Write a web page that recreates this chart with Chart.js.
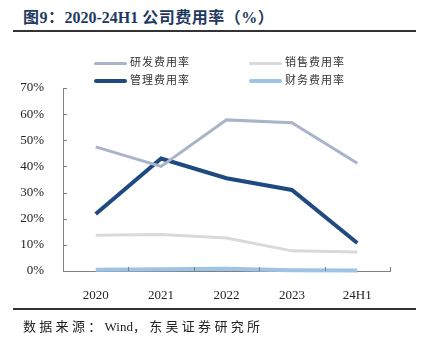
<!DOCTYPE html>
<html>
<head>
<meta charset="utf-8">
<script src="https://cdn.jsdelivr.net/npm/chart.js@4/dist/chart.umd.min.js"></script>
<style>
  body { margin: 0; background: #fff; width: 430px; height: 347px; overflow: hidden; position: relative; }
  .title { position: absolute; left: 23px; top: 4px; font: bold 16px "Liberation Serif", "Noto Sans CJK SC", serif; color: #1f3a5f; white-space: nowrap; }
  .title .cn { letter-spacing: 0.5px; }
  .rule { position: absolute; left: 13px; width: 403px; height: 2px; background: #333; }
  .source { position: absolute; left: 23px; top: 316px; font: 13px "Liberation Serif", "Noto Sans CJK SC", serif; color: #222; white-space: nowrap; }
  .source .cn { letter-spacing: 3.3px; }
  #wrap { position: absolute; left: 0; top: 0; width: 430px; height: 347px; }
  .legend { position: absolute; font: 11px "Noto Sans CJK SC", sans-serif; color: #333; letter-spacing: 1px; }
  .legend span { display: inline-block; width: 33px; height: 3px; vertical-align: middle; margin-right: 3px; border-radius: 2px; }
</style>
</head>
<body>
<div class="title"><span class="cn">图9：</span>2020-24H1 <span class="cn">公司费用率（%）</span></div>
<div class="rule" style="top:30px"></div>
<div id="wrap"><canvas id="c" width="430" height="347"></canvas></div>
<div id="legend"></div>
<div class="rule" style="top:308px"></div>
<div class="source"><span class="cn">数据来源：</span>Wind<span class="cn">，东吴证券研究所</span></div>
<script>
// ---- 数据 ----
const years = ['2020', '2021', '2022', '2023', '24H1'];
const rdRate = [47.5, 40.0, 57.8, 56.7, 41.2];      // 研发费用率
const salesRate = [13.7, 14.0, 12.6, 7.7, 7.3];    // 销售费用率
const adminRate = [21.8, 43.0, 35.5, 31.0, 10.7];  // 管理费用率
const finRate = [0.5, 0.7, 0.9, 0.3, 0.2];         // 财务费用率
const yTicks = [0, 10, 20, 30, 40, 50, 60, 70];

const series = [
  { label: '研发费用率', data: rdRate, color: '#aab4c8', width: 3, lx: 94, ly: 61 },
  { label: '销售费用率', data: salesRate, color: '#d9d9d9', width: 3, lx: 249, ly: 61 },
  { label: '管理费用率', data: adminRate, color: '#1f4a80', width: 4, lx: 94, ly: 79 },
  { label: '财务费用率', data: finRate, color: '#9dc3e6', width: 4, lx: 249, ly: 79 },
];

// 图例
document.getElementById('legend').innerHTML = series.map(s => `
  <div class="legend" style="left:${s.lx}px;top:${s.ly - 8}px;">
    <span style="background:${s.color};height:${s.width}px;"></span>${s.label}
  </div>`).join('');

// 坐标轴内侧短刻度
const innerTicks = {
  id: 'innerTicks',
  afterDatasetsDraw(chart) {
    const { ctx, scales: { x, y }, chartArea } = chart;
    ctx.save();
    ctx.strokeStyle = '#808080';
    ctx.lineWidth = 1;
    yTicks.forEach(v => {
      const py = Math.round(y.getPixelForValue(v)) + 0.5;
      ctx.beginPath();
      ctx.moveTo(chartArea.left, py);
      ctx.lineTo(chartArea.left + 4, py);
      ctx.stroke();
    });
    for (let i = 0; i <= years.length; i++) {
      const px = Math.round(x.getPixelForValue(i - 0.5)) + 0.5;
      ctx.beginPath();
      ctx.moveTo(px, chartArea.bottom);
      ctx.lineTo(px, chartArea.bottom - 4);
      ctx.stroke();
    }
    ctx.restore();
  }
};

new Chart(document.getElementById('c'), {
  type: 'line',
  data: {
    labels: years,
    datasets: series.map(s => ({
      label: s.label,
      data: s.data,
      borderColor: s.color,
      backgroundColor: s.color,
      borderWidth: s.width,
      pointRadius: 0,
      tension: 0,
      clip: false,
    })),
  },
  options: {
    responsive: false,
    animation: false,
    layout: { padding: { left: 0, right: 40, top: 88, bottom: 46 } },
    plugins: { legend: { display: false }, tooltip: { enabled: false } },
    scales: {
      x: {
        offset: true,
        grid: { display: false },
        border: { color: '#808080', width: 1 },
        ticks: { color: '#222', padding: 9, font: { family: 'Liberation Serif', size: 13 }, maxRotation: 0 },
        afterFit: s => { s.height = 30; },
      },
      y: {
        min: 0,
        max: 70,
        grid: { display: false },
        border: { color: '#808080', width: 1 },
        afterBuildTicks: s => { s.ticks = yTicks.map(v => ({ value: v })); },
        ticks: { color: '#222', padding: 11, font: { family: 'Liberation Serif', size: 13 }, callback: v => v + '%' },
        afterFit: s => { s.width = 63; },
      },
    },
  },
  plugins: [innerTicks],
});
</script>
</body>
</html>
